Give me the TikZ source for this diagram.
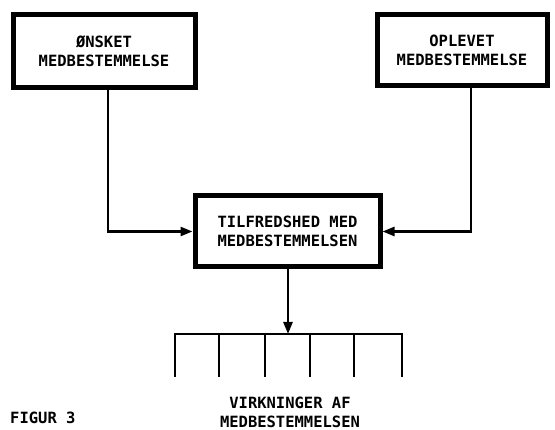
\documentclass[tikz,border=0pt]{standalone}
\usepackage{fontspec}
\setmonofont{DejaVu Sans Mono}
\usetikzlibrary{arrows.meta}
\begin{document}
\begin{tikzpicture}[x=1pt,y=-1pt,
  lbl/.style={font=\ttfamily\bfseries\fontsize{15.5}{19}\selectfont, align=center, inner sep=0pt},
  bx/.style={draw, line width=5pt, inner sep=0pt, lbl},
  conn/.style={line width=2.5pt},
  arr/.style={conn, -{Triangle[length=12pt,width=9pt]}}]
\useasboundingbox (0,0) rectangle (555,430);
\node[bx, minimum width=182pt, minimum height=73pt] (left) at (104,51.5) {ØNSKET\\MEDBESTEMMELSE};
\node[bx, minimum width=170pt, minimum height=71pt] (right) at (462,50.5) {OPLEVET\\MEDBESTEMMELSE};
\node[bx, minimum width=185pt, minimum height=71pt] (mid) at (287.5,231.5) {TILFREDSHED MED\\MEDBESTEMMELSEN};
\draw[arr] ([xshift=4pt]left.south) |- (mid.west);
\draw[arr] ([xshift=9pt]right.south) |- (mid.east);
\coordinate (c1) at (175,334);
\coordinate (c2) at (219,334);
\coordinate (c3) at (265,334);
\coordinate (c4) at (310,334);
\coordinate (c5) at (354,334);
\coordinate (c6) at (402,334);
\coordinate (bar) at (288,334);
\draw[arr] (mid.south -| bar) -- (bar);
\draw[conn] ([yshift=-43pt]c1) -- (c1) -- (c6) -- ([yshift=-43pt]c6);
\foreach \c in {c2,c3,c4,c5} \draw[conn] (\c) -- ([yshift=-43pt]\c);
\node[lbl] (eff) at (290,412) {VIRKNINGER AF\\MEDBESTEMMELSEN};
\node[lbl, anchor=west] (fig) at (10,418) {FIGUR 3};
\end{tikzpicture}
\end{document}
